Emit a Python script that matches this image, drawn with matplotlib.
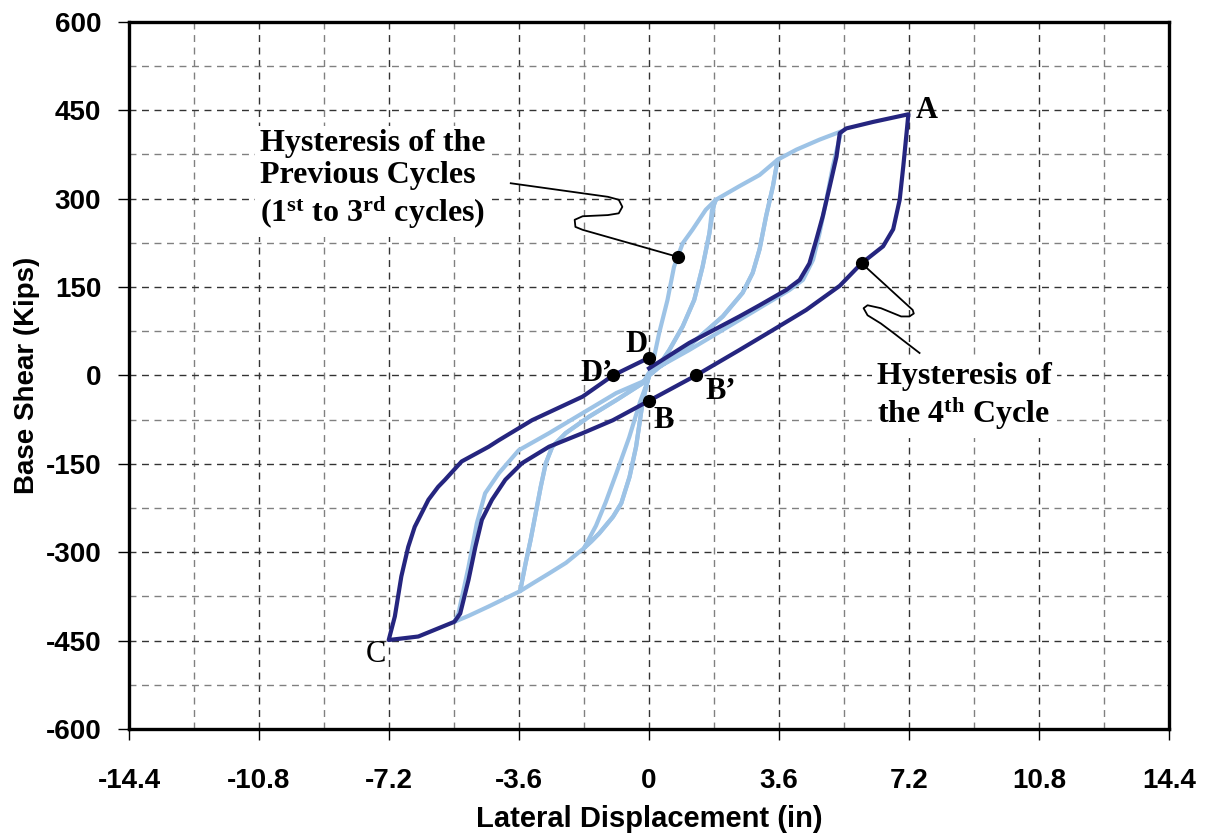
import numpy as np
import matplotlib
matplotlib.use("Agg")
from matplotlib import pyplot as plt

plt.rcParams['font.family'] = ['Liberation Sans', 'DejaVu Sans']
plt.rcParams['mathtext.fontset'] = 'custom'
plt.rcParams['mathtext.rm'] = 'Liberation Serif:bold'
plt.rcParams['mathtext.it'] = 'Liberation Serif:bold'
plt.rcParams['mathtext.bf'] = 'Liberation Serif:bold'

# previous cycles (light blue)
cyc1_x = [0, 0.1, 0.28, 0.51, 0.69, 0.79, 0.93, 1.2, 1.57, 1.85,
          1.8, 1.72, 1.67, 1.48, 1.25, 0.93, 0.56, 0.2, 0,
          -0.1, -0.25, -0.55, -0.9, -1.2, -1.47, -1.8,
          -1.6, -1.38, -1.0, -0.77, -0.54, -0.36, -0.17, 0]
cyc1_y = [0, 20, 72, 128, 184, 201, 224, 247, 281, 298,
          290, 260, 241, 184, 128, 83, 43, 10, 0,
          -20, -45, -105, -165, -215, -255, -293,
          -282, -268, -240, -217, -172, -121, -42, 0]

cyc2_x = [0, 0.2, 0.56, 0.93, 1.25, 1.48, 1.67, 1.74, 1.85, 2.5, 3.06, 3.56,
          3.43, 3.24, 3.06, 2.87, 2.59, 2.04, 1.11, 0.19, 0,
          -0.17, -0.36, -0.54, -0.77, -1.0, -1.38, -1.8, -2.3, -2.77, -3.2, -3.57,
          -3.42, -3.28, -3.14, -3.0, -2.86, -2.68, -2.31, -1.66, -0.91, -0.17, 0]
cyc2_y = [0, 10, 43, 83, 128, 184, 241, 280, 298, 321, 340, 366,
          321, 270, 214, 174, 140, 100, 50, 10, 0,
          -42, -121, -172, -217, -240, -268, -293, -318, -336, -352, -366,
          -319, -279, -234, -189, -149, -121, -98, -70, -42, -13, 0]

cyc3_x = [0, 0.19, 1.11, 2.04, 2.59, 2.87, 3.06, 3.24, 3.43, 3.56, 4.08, 4.72, 5.32,
          5.09, 4.91, 4.72, 4.54, 4.26, 3.89, 2.5, 1.11, 0,
          -0.17, -0.91, -1.66, -2.31, -2.68, -2.86, -3.0, -3.14, -3.28, -3.42, -3.57,
          -4.44, -5.0, -5.39,
          -5.28, -5.0, -4.77, -4.54, -4.16, -3.61, -2.77, -1.84, -0.91, -0.08]
cyc3_y = [0, 10, 50, 100, 140, 174, 214, 270, 321, 366, 383, 400, 414,
          355, 298, 241, 196, 162, 145, 94, 43, 5,
          -13, -42, -70, -98, -121, -149, -189, -234, -279, -319, -366,
          -392, -408, -418,
          -404, -325, -251, -200, -166, -127, -98, -64, -30, -8]

# 4th cycle (dark)
cyc4_x = [0, 1.11, 2.5, 3.06, 3.8, 4.17, 4.44, 4.63, 4.81, 5.0, 5.19, 5.28, 5.46, 6.2, 7.18,
          7.13, 7.04, 6.94, 6.76, 6.48, 5.88, 5.28, 4.35, 3.43, 2.5, 1.3, 0,
          -1.0, -1.84, -2.77, -3.52, -3.98, -4.35, -4.63, -4.81, -5.0, -5.23, -5.39,
          -6.39, -7.21,
          -7.04, -6.86, -6.67, -6.49, -6.11, -5.84, -5.65, -5.19, -4.44, -4.16, -3.24,
          -1.84, -1.0, 0]
cyc4_y = [12, 55, 100, 119, 145, 162, 190, 230, 270, 320, 371, 411, 419, 430, 443,
          411, 355, 298, 248, 219, 190, 152, 111, 77, 43, 0, -43,
          -76, -98, -121, -149, -177, -211, -245, -291, -347, -404, -418,
          -443, -449,
          -409, -341, -291, -257, -211, -189, -177, -146, -121, -110, -76,
          -36, 0, 30]

pt_names = ['A', 'B', 'B\u2019', 'C', 'D', 'D\u2019']
pt_x = [7.18, 0, 1.3, -7.21, 0, -1.0]
pt_y = [443, -43, 0, -449, 30, 0]

x_ticks = [-14.4, -10.8, -7.2, -3.6, 0, 3.6, 7.2, 10.8, 14.4]
x_labels = ['-14.4', '-10.8', '-7.2', '-3.6', '0', '3.6', '7.2', '10.8', '14.4']
y_ticks = [-600, -450, -300, -150, 0, 150, 300, 450, 600]
y_labels = ['-600', '-450', '-300', '-150', '0', '150', '300', '450', '600']

light = '#9dc3e6'
dark = '#25257f'

fig = plt.figure(figsize=(12.05, 8.4), dpi=100)
ax = fig.add_axes([0.1071, 0.1321, 0.8631, 0.842])

ax.plot(cyc1_x, cyc1_y, color=light, lw=3, zorder=2)
ax.plot(cyc2_x, cyc2_y, color=light, lw=3, zorder=2)
ax.plot(cyc3_x, cyc3_y, color=light, lw=3, zorder=2)
ax.plot(cyc4_x, cyc4_y, color=dark, lw=3, zorder=3)

# marked points
ax.plot(pt_x[1:3] + pt_x[4:], pt_y[1:3] + pt_y[4:], 'o', color='black', ms=8.5, zorder=5)

serif = ['Liberation Serif', 'DejaVu Serif']
ax.text(7.70, 450, pt_names[0], family=serif, weight='bold', fontsize=22, ha='center', va='center')
ax.text(0.40, -77, pt_names[1], family=serif, weight='bold', fontsize=22, ha='center', va='center')
ax.text(1.99, -28, pt_names[2], family=serif, weight='bold', fontsize=22, ha='center', va='center')
ax.text(-7.56, -474, pt_names[3], family=serif, fontsize=22, ha='center', va='center')
ax.text(-0.35, 52, pt_names[4], family=serif, weight='bold', fontsize=22, ha='center', va='center')
ax.text(-1.46, 4, pt_names[5], family=serif, weight='bold', fontsize=22, ha='center', va='center')

# callouts
lead1_x = [-3.83, -1.14, -0.84, -0.74, -0.84, -1.14, -1.84, -2.06, -2.04, -1.84, 0.80]
lead1_y = [326, 303, 298, 286, 275, 272, 270, 264, 252, 247, 201]
lead2_x = [5.89, 7.30, 7.33, 7.21, 6.98, 6.42, 6.05, 5.94, 6.05, 6.42, 6.79, 7.49]
lead2_y = [190, 111, 105, 100, 100, 114, 119, 114, 102, 88, 71, 38]
ax.plot(lead1_x, lead1_y, color='black', lw=1.3, zorder=4)
ax.plot(lead2_x, lead2_y, color='black', lw=1.3, zorder=4)
ax.plot([0.80, 5.89], [201, 190], 'o', color='black', ms=8.5, zorder=5)

box = dict(facecolor='white', edgecolor='none', pad=4)
ax.text(-10.77, 331, 'Hysteresis of the\nPrevious Cycles\n(1$^{\\mathrm{st}}$ to 3$^{\\mathrm{rd}}$ cycles)',
        family=serif, weight='bold', fontsize=23, ha='left', va='center',
        linespacing=1.15, bbox=box, zorder=4)
ax.text(6.31, -37, 'Hysteresis of\nthe 4$^{\\mathrm{th}}$ Cycle',
        family=serif, weight='bold', fontsize=23, ha='left', va='center',
        linespacing=1.15, bbox=box, zorder=4)

ax.set_xlim(-14.4, 14.4)
ax.set_ylim(-600, 600)
ax.set_xticks(x_ticks)
ax.set_xticklabels(x_labels)
ax.set_yticks(y_ticks)
ax.set_yticklabels(y_labels)
ax.set_xticks(np.arange(-14.4, 14.5, 1.8), minor=True)
ax.set_yticks(np.arange(-600, 601, 75), minor=True)
ax.tick_params(which='major', direction='out', length=8, width=1, labelsize=20)
ax.tick_params(axis='x', which='major', pad=20)
ax.tick_params(axis='y', which='major', pad=12)
ax.tick_params(which='minor', length=0)
for lab in ax.get_xticklabels() + ax.get_yticklabels():
    lab.set_fontweight('bold')

ax.set_axisbelow(True)
ax.grid(which='major', color='#333333', lw=1, ls=(0, (5, 4)))
ax.grid(which='minor', color='#808080', lw=1, ls=(0, (5, 4)))
for s in ax.spines.values():
    s.set_linewidth(2.4)

ax.set_xlabel('Lateral Displacement (in)', fontsize=21, fontweight='bold', labelpad=8)
ax.set_ylabel('Base Shear (Kips)', fontsize=20, fontweight='bold', labelpad=4)

fig.savefig('out.png', dpi=100)
